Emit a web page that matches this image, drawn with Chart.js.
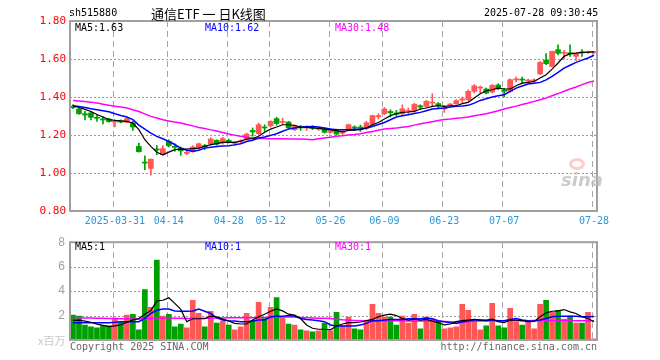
<!DOCTYPE html>
<html><head><meta charset="utf-8">
<script src="https://cdn.jsdelivr.net/npm/chart.js@4.4.1/dist/chart.umd.min.js"></script>
<style>
body{margin:0;background:#fff;width:660px;height:360px;overflow:hidden;position:relative;font-family:"DejaVu Sans Mono",monospace;}
.t{position:absolute;white-space:nowrap;font-size:10px;line-height:12px;color:#000;}
#c1{position:absolute;left:0;top:0;}
#c2{position:absolute;left:0;top:230px;}
.eye{position:absolute;left:569px;top:158px;width:16px;height:12px;border-radius:50%;border:3px solid rgba(255,140,140,0.45);box-sizing:border-box;}
</style></head><body>
<canvas id="c1" width="660" height="230"></canvas>
<canvas id="c2" width="660" height="130"></canvas>
<div class="t" style="left:69px;top:7px;">sh515880</div>
<div class="t" style="left:151px;top:5px;font-family:'Noto Sans CJK SC';font-size:13px;line-height:18px;">通信ETF 一 日K线图</div>
<div class="t" style="left:484px;top:7px;">2025-07-28 09:30:45</div>
<div class="t" style="left:75px;top:22px;">MA5:1.63</div>
<div class="t" style="left:205px;top:22px;color:#0000ff;">MA10:1.62</div>
<div class="t" style="left:335px;top:22px;color:#ff00ff;">MA30:1.48</div>
<div class="t" style="left:75px;top:241px;">MA5:1</div>
<div class="t" style="left:205px;top:241px;color:#0000ff;">MA10:1</div>
<div class="t" style="left:335px;top:241px;color:#ff00ff;">MA30:1</div>
<div class="t" style="left:38px;top:333px;font-family:'Noto Sans CJK SC';font-size:11px;line-height:14px;color:#c8c8c8;">x百万</div>
<div class="t" style="left:70px;top:341px;color:#666;">Copyright 2025 SINA.COM</div>
<div class="t" style="right:63px;top:341px;color:#666;">http://finance.sina.com.cn</div>
<div class="eye"></div>
<div class="t" style="left:561px;top:169px;font-family:'DejaVu Sans';font-size:18px;line-height:22px;font-style:italic;font-weight:bold;color:rgba(185,185,185,0.75);">sina</div>
<script>
const dates = ['03-20','03-21','03-24','03-25','03-26','03-27','03-28','03-31','04-01','04-02','04-03','04-07','04-08','04-09','04-10','04-11','04-14','04-15','04-16','04-17','04-18','04-21','04-22','04-23','04-24','04-25','04-28','04-29','04-30','05-06','05-07','05-08','05-09','05-12','05-13','05-14','05-15','05-16','05-19','05-20','05-21','05-22','05-23','05-26','05-27','05-28','05-29','05-30','06-03','06-04','06-05','06-06','06-09','06-10','06-11','06-12','06-13','06-16','06-17','06-18','06-19','06-20','06-23','06-24','06-25','06-26','06-27','06-30','07-01','07-02','07-03','07-04','07-07','07-08','07-09','07-10','07-11','07-14','07-15','07-16','07-17','07-18','07-21','07-22','07-23','07-24','07-25','07-28'];
const tickDates = ['03-31','04-14','04-28','05-12','05-26','06-09','06-23','07-07','07-28'];
const tickTexts = ['2025-03-31','04-14','04-28','05-12','05-26','06-09','06-23','07-07','07-28'];

const open  = [1.352,1.337,1.312,1.316,1.293,1.284,1.284,1.268,1.275,1.267,1.263,1.140,1.058,1.024,1.126,1.096,1.166,1.140,1.131,1.103,1.112,1.131,1.144,1.154,1.172,1.159,1.172,1.156,1.165,1.175,1.224,1.207,1.240,1.249,1.286,1.266,1.268,1.228,1.242,1.237,1.240,1.230,1.231,1.214,1.222,1.210,1.231,1.242,1.242,1.235,1.256,1.296,1.312,1.324,1.316,1.312,1.324,1.326,1.354,1.351,1.368,1.365,1.337,1.358,1.365,1.384,1.386,1.430,1.447,1.442,1.426,1.463,1.437,1.430,1.490,1.494,1.484,1.485,1.522,1.594,1.561,1.649,1.630,1.633,1.614,1.637,1.634,1.634];
const high  = [1.360,1.340,1.324,1.324,1.307,1.295,1.288,1.280,1.280,1.290,1.272,1.158,1.091,1.073,1.144,1.144,1.175,1.153,1.137,1.119,1.144,1.158,1.151,1.186,1.175,1.188,1.179,1.166,1.175,1.210,1.237,1.263,1.254,1.275,1.293,1.289,1.272,1.250,1.251,1.249,1.249,1.242,1.237,1.231,1.231,1.228,1.258,1.249,1.252,1.272,1.305,1.312,1.345,1.333,1.330,1.359,1.342,1.368,1.359,1.382,1.417,1.371,1.355,1.365,1.386,1.400,1.438,1.465,1.458,1.447,1.466,1.470,1.445,1.496,1.505,1.505,1.494,1.495,1.586,1.628,1.642,1.675,1.645,1.675,1.631,1.649,1.642,1.640];
const low   = [1.338,1.308,1.280,1.280,1.272,1.258,1.267,1.242,1.263,1.265,1.224,1.109,1.017,0.988,1.096,1.093,1.137,1.114,1.093,1.096,1.109,1.126,1.123,1.147,1.147,1.152,1.158,1.144,1.158,1.172,1.193,1.202,1.219,1.242,1.252,1.254,1.232,1.223,1.224,1.224,1.228,1.224,1.210,1.210,1.200,1.200,1.228,1.224,1.219,1.228,1.249,1.284,1.307,1.295,1.302,1.300,1.312,1.320,1.333,1.345,1.352,1.340,1.319,1.352,1.361,1.368,1.377,1.421,1.421,1.416,1.421,1.438,1.400,1.425,1.480,1.470,1.474,1.475,1.517,1.570,1.558,1.622,1.600,1.614,1.593,1.614,1.628,1.630];
const close = [1.344,1.312,1.305,1.293,1.288,1.279,1.270,1.273,1.268,1.286,1.242,1.112,1.052,1.073,1.121,1.128,1.144,1.135,1.116,1.109,1.137,1.154,1.138,1.179,1.152,1.181,1.166,1.161,1.170,1.205,1.216,1.254,1.237,1.272,1.260,1.272,1.237,1.245,1.237,1.242,1.235,1.235,1.214,1.222,1.205,1.219,1.254,1.237,1.235,1.264,1.302,1.302,1.337,1.317,1.309,1.338,1.329,1.361,1.347,1.377,1.372,1.355,1.343,1.363,1.381,1.390,1.430,1.459,1.452,1.421,1.461,1.444,1.430,1.491,1.495,1.489,1.488,1.490,1.582,1.575,1.640,1.630,1.635,1.626,1.631,1.632,1.638,1.638];

const ma5  = [1.354,1.345,1.335,1.324,1.308,1.295,1.281,1.277,1.274,1.272,1.263,1.228,1.175,1.140,1.109,1.096,1.110,1.123,1.126,1.126,1.128,1.131,1.140,1.149,1.155,1.161,1.163,1.161,1.168,1.179,1.181,1.193,1.214,1.231,1.242,1.254,1.254,1.251,1.242,1.240,1.237,1.235,1.231,1.227,1.223,1.216,1.224,1.226,1.228,1.237,1.254,1.266,1.284,1.302,1.312,1.319,1.321,1.324,1.337,1.342,1.351,1.354,1.351,1.354,1.354,1.365,1.372,1.395,1.417,1.433,1.438,1.447,1.442,1.442,1.459,1.473,1.477,1.482,1.500,1.517,1.547,1.579,1.614,1.628,1.631,1.635,1.636,1.638];
const ma10 = [1.354,1.350,1.345,1.338,1.333,1.328,1.322,1.312,1.303,1.295,1.281,1.252,1.231,1.210,1.193,1.180,1.166,1.150,1.131,1.120,1.114,1.120,1.131,1.136,1.140,1.142,1.144,1.148,1.154,1.166,1.172,1.184,1.189,1.198,1.207,1.220,1.231,1.237,1.242,1.244,1.245,1.242,1.237,1.232,1.228,1.228,1.228,1.230,1.231,1.237,1.245,1.255,1.266,1.280,1.295,1.301,1.307,1.313,1.319,1.328,1.337,1.340,1.342,1.347,1.351,1.353,1.356,1.368,1.382,1.391,1.400,1.406,1.412,1.430,1.447,1.458,1.468,1.472,1.477,1.490,1.509,1.530,1.552,1.567,1.582,1.594,1.605,1.620];
const ma30 = [1.382,1.379,1.376,1.373,1.368,1.362,1.356,1.351,1.347,1.342,1.333,1.324,1.311,1.298,1.289,1.280,1.274,1.268,1.263,1.255,1.248,1.240,1.234,1.227,1.221,1.213,1.205,1.199,1.193,1.188,1.184,1.181,1.181,1.180,1.180,1.180,1.179,1.179,1.179,1.177,1.175,1.180,1.184,1.188,1.193,1.196,1.200,1.203,1.207,1.213,1.219,1.225,1.231,1.234,1.237,1.241,1.245,1.252,1.259,1.264,1.270,1.276,1.281,1.284,1.288,1.291,1.295,1.301,1.306,1.312,1.320,1.328,1.337,1.345,1.352,1.360,1.368,1.377,1.386,1.395,1.407,1.418,1.430,1.442,1.453,1.465,1.476,1.485];

const volume = [2.03,1.95,1.23,1.07,0.99,1.15,1.15,1.79,1.47,2.03,2.11,0.83,4.12,2.67,6.53,1.95,2.11,1.07,1.31,0.99,3.24,2.19,1.07,2.35,1.39,1.55,1.23,0.83,1.07,2.19,1.55,3.08,1.79,2.67,3.48,1.79,1.31,1.23,0.83,0.75,0.67,0.75,1.39,0.75,2.27,1.15,1.87,0.91,0.83,1.55,2.92,2.19,1.87,1.87,1.23,1.95,1.39,2.11,0.91,1.87,1.71,1.55,0.91,0.99,1.07,2.92,2.43,1.47,0.83,1.15,3.00,1.15,0.99,2.59,1.47,1.23,1.55,0.91,2.92,3.24,2.27,2.43,1.71,1.95,1.39,1.39,2.27,0.10];
const vma5  = [1.60,1.62,1.55,1.45,1.30,1.20,1.10,1.15,1.25,1.45,1.65,1.75,2.10,2.40,3.20,3.25,3.45,3.00,2.50,1.50,1.74,1.74,1.74,1.95,1.90,1.71,1.55,1.36,1.31,1.31,1.63,1.90,2.11,2.35,2.54,2.38,2.11,2.03,1.76,1.23,0.96,0.88,0.88,0.83,1.15,1.31,1.42,1.42,1.47,1.58,1.68,1.90,2.03,2.11,2.00,1.76,1.63,1.71,1.63,1.68,1.55,1.42,1.23,1.31,1.50,1.58,1.63,1.68,1.63,1.63,1.71,1.50,1.42,1.63,1.63,1.58,1.50,1.52,1.90,2.22,2.35,2.38,2.49,2.30,2.17,1.90,1.76,1.50];
const vma10 = [1.42,1.42,1.42,1.42,1.42,1.42,1.42,1.45,1.50,1.50,1.50,1.50,1.76,2.17,2.43,2.54,2.54,2.38,2.35,2.35,2.38,2.54,2.35,2.17,1.82,1.63,1.58,1.55,1.50,1.50,1.55,1.63,1.63,1.90,1.95,1.95,2.00,1.95,1.76,1.68,1.63,1.58,1.50,1.23,1.15,1.15,1.15,1.15,1.23,1.36,1.58,1.58,1.63,1.68,1.68,1.68,1.74,1.74,1.74,1.79,1.74,1.58,1.50,1.42,1.36,1.47,1.58,1.63,1.63,1.58,1.63,1.58,1.58,1.68,1.76,1.63,1.58,1.55,1.63,1.76,1.90,1.95,1.95,1.95,1.95,1.90,1.90,1.92];
const vma30 = [1.82,1.81,1.80,1.79,1.78,1.77,1.76,1.75,1.74,1.73,1.72,1.72,1.74,1.76,1.79,1.80,1.80,1.78,1.77,1.76,1.76,1.76,1.77,1.78,1.79,1.80,1.81,1.82,1.82,1.82,1.82,1.83,1.84,1.85,1.86,1.88,1.88,1.88,1.85,1.82,1.80,1.78,1.77,1.76,1.70,1.65,1.62,1.60,1.58,1.58,1.58,1.58,1.58,1.58,1.57,1.57,1.56,1.56,1.55,1.55,1.55,1.54,1.52,1.50,1.48,1.47,1.50,1.53,1.56,1.58,1.58,1.58,1.58,1.58,1.58,1.58,1.58,1.59,1.60,1.60,1.60,1.60,1.59,1.59,1.58,1.58,1.58,1.58];

const RED = '#ff5656', GREEN = '#00a000';
const up = close.map((c,i)=> c >= open[i]);
const candleColor = up.map(u => u ? RED : GREEN);
const bodies = open.map((o,i)=> [Math.min(o, close[i]), Math.max(o, close[i])]);
const wicks = low.map((l,i)=> [l, high[i]]);
const markIdx = tickDates.map(d => dates.indexOf(d));
const tickLabel = i => { const k = markIdx.indexOf(i); return k >= 0 ? tickTexts[k] : ''; };

// frame and grid lines, positioned from the chart's own scales
const panelPlugin = {
  id:'panel',
  beforeDatasetsDraw(chart){
    const a = chart.chartArea, ctx = chart.ctx, xs = chart.scales.x, ys = chart.scales.y;
    ctx.save();
    ctx.lineWidth = 1;
    ctx.strokeStyle = '#9a9a9a';
    ctx.setLineDash([2,2]);
    ys.ticks.forEach(t => {
      if (t.value <= ys.min + 1e-9 || t.value >= ys.max - 1e-9) return;
      const y = Math.round(ys.getPixelForValue(t.value)) + 0.5;
      ctx.beginPath(); ctx.moveTo(a.left, y); ctx.lineTo(a.right, y); ctx.stroke();
    });
    ctx.strokeStyle = '#a6a6a6';
    ctx.setLineDash([6,4]);
    markIdx.forEach(i => {
      const x = Math.round(xs.getPixelForValue(i)) - 1.5;
      ctx.beginPath(); ctx.moveTo(x, a.top); ctx.lineTo(x, a.bottom); ctx.stroke();
    });
    ctx.restore();
  },
  afterDraw(chart){
    const a = chart.chartArea, ctx = chart.ctx;
    ctx.save();
    ctx.strokeStyle = '#a0a0a0';
    ctx.lineWidth = 2;
    ctx.strokeRect(a.left, a.top, a.right - a.left, a.bottom - a.top);
    ctx.restore();
  }
};

const xScale = (showLabels) => ({
  offset: true,
  grid: { display: false, drawTicks: false },
  border: { display: false },
  ticks: { display: showLabels, autoSkip: false, maxRotation: 0, minRotation: 0, padding: 4,
           color: '#2a98d8', font: { family: 'DejaVu Sans Mono', size: 10 },
           callback: (v, i) => tickLabel(i) },
  afterFit: s => { s.height = showLabels ? 19 : 0; }
});

const lineDs = (label, data, color, w) => ({
  type: 'line', label, data, borderColor: color, backgroundColor: color, borderWidth: w,
  pointRadius: 0, tension: 0, order: 0
});

new Chart(document.getElementById('c1'), {
  type: 'bar',
  data: {
    labels: dates,
    datasets: [
      lineDs('MA5', ma5, '#000000', 1.2),
      lineDs('MA10', ma10, '#0000ff', 1.5),
      lineDs('MA30', ma30, '#ff00ff', 1.5),
      { label: 'wick', data: wicks, backgroundColor: candleColor, barThickness: 1, grouped: false, order: 2 },
      { label: 'body', data: bodies, backgroundColor: candleColor, barThickness: 5, grouped: false, minBarLength: 1, order: 1 }
    ]
  },
  options: {
    responsive: false, animation: false, devicePixelRatio: 1,
    layout: { padding: { top: 21, right: 63, left: 0, bottom: 0 } },
    plugins: { legend: { display: false }, tooltip: { enabled: false } },
    scales: {
      x: xScale(true),
      y: {
        min: 0.8, max: 1.8,
        ticks: { stepSize: 0.2, color: '#ff0000', padding: 4, font: { family: 'DejaVu Sans Mono', size: 11 },
                 callback: v => Number(v).toFixed(2) },
        grid: { display: false, drawTicks: false },
        border: { display: false },
        afterFit: s => { s.width = 70; }
      }
    }
  },
  plugins: [panelPlugin]
});

new Chart(document.getElementById('c2'), {
  type: 'bar',
  data: {
    labels: dates,
    datasets: [
      lineDs('VMA5', vma5, '#000000', 1.2),
      lineDs('VMA10', vma10, '#0000ff', 1.5),
      lineDs('VMA30', vma30, '#ff00ff', 1.5),
      { label: 'volume', data: volume, backgroundColor: candleColor, barThickness: 5, grouped: false, order: 1 }
    ]
  },
  options: {
    responsive: false, animation: false, devicePixelRatio: 1,
    layout: { padding: { top: 10, right: 63, left: 0, bottom: 20 } },
    plugins: { legend: { display: false }, tooltip: { enabled: false } },
    scales: {
      x: xScale(false),
      y: {
        min: 0, max: 8,
        ticks: { stepSize: 2, color: '#a0a0a0', padding: 5, font: { family: 'Liberation Sans', size: 12 },
                 callback: v => v === 0 ? '' : String(v) },
        grid: { display: false, drawTicks: false },
        border: { display: false },
        afterFit: s => { s.width = 70; }
      }
    }
  },
  plugins: [panelPlugin]
});
</script>
</body></html>
